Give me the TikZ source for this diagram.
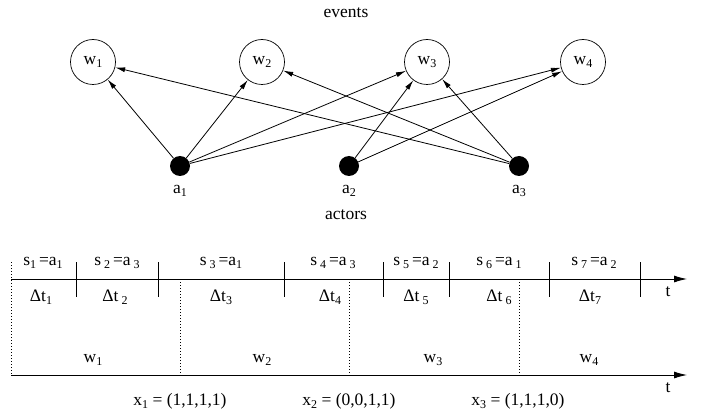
\documentclass[tikz,border=0pt]{standalone}
\usepackage{fontspec}
\setmainfont{Liberation Serif}
\usetikzlibrary{arrows.meta}
\newcommand{\lo}[1]{\raisebox{-0.4ex}{\fontsize{12}{12}\selectfont #1}}
\tikzset{
  ev/.style={circle,draw,line width=0.7pt,minimum size=45pt,inner sep=0pt},
  ac/.style={circle,fill=black,minimum size=20pt,inner sep=0pt},
  arr/.style={line width=0.8pt,-{Latex[length=10pt,width=5pt]}},
  axis/.style={line width=0.9pt,-{Latex[length=13pt,width=7pt]}},
  tick/.style={line width=0.9pt},
  dots/.style={line width=0.8pt,dash pattern=on 0.8pt off 2.2pt},
  lbl/.style={inner sep=0pt}
}
\begin{document}
\begin{tikzpicture}[x=1pt,y=-1pt,font=\fontsize{17.5}{19}\selectfont]
\useasboundingbox (0,0) rectangle (704,414);
% events
\node[lbl] (events) at (346,13) {events};
\node[ev] (w1) at (93,62) {w\lo{1}};
\node[ev] (w2) at (262,62) {w\lo{2}};
\node[ev] (w3) at (427,62) {w\lo{3}};
\node[ev] (w4) at (583,62) {w\lo{4}};
% actors
\node[ac] (a1) at (180,166) {};
\node[ac] (a2) at (349,166) {};
\node[ac] (a3) at (519,166) {};
\node[lbl] (la1) at (180,191) {a\lo{1}};
\node[lbl] (la2) at (349,191) {a\lo{2}};
\node[lbl] (la3) at (519,191) {a\lo{3}};
\node[lbl] (actors) at (346,215) {actors};
% edges
\draw[arr] (a1) -- (w1);
\draw[arr] (a1) -- (w2);
\draw[arr] (a1) -- (w3);
\draw[arr] (a1) -- (w4);
\draw[arr] (a2) -- (w3);
\draw[arr] (a2) -- (w4);
\draw[arr] (a3) -- (w1);
\draw[arr] (a3) -- (w2);
\draw[arr] (a3) -- (w3);
% timeline 1
\coordinate (ta) at (11,279);
\coordinate (tb) at (687,279);
\draw[axis] (ta) -- (tb);
\foreach \x in {76,158,284,383,449,549,640} \draw[tick] (\x,262) -- (\x,297);
\node[lbl] (tl1) at (668,292) {t};
\node[lbl] (s1) at (43,263) {s\lo{1}\,=a\lo{1}};
\node[lbl] (s2) at (117,263) {s\,\lo{2}\,=a\,\lo{3}};
\node[lbl] (s3) at (221,263) {s\,\lo{3}\,=a\lo{1}};
\node[lbl] (s4) at (333,263) {s\,\lo{4}\,=a\,\lo{3}};
\node[lbl] (s5) at (416,263) {s\,\lo{5}\,=a\,\lo{2}};
\node[lbl] (s6) at (499,263) {s\,\lo{6}\,=a\,\lo{1}};
\node[lbl] (s7) at (594,263) {s\,\lo{7}\,=a\,\lo{2}};
\node[lbl] (d1) at (41,297) {Δt\lo{1}};
\node[lbl] (d2) at (115,297) {Δt\,\lo{2}};
\node[lbl] (d3) at (221,297) {Δt\lo{3}};
\node[lbl] (d4) at (330,297) {Δt\lo{4}};
\node[lbl] (d5) at (416,297) {Δt\,\lo{5}};
\node[lbl] (d6) at (499,297) {Δt\,\lo{6}};
\node[lbl] (d7) at (590,297) {Δt\lo{7}};
% dotted separators
\draw[dots] (11,262) -- (11,375);
\draw[dots] (180,279) -- (180,375);
\draw[dots] (349,279) -- (349,375);
\draw[dots] (519,279) -- (519,375);
% timeline 2
\coordinate (ua) at (11,375);
\coordinate (ub) at (687,375);
\draw[axis] (ua) -- (ub);
\node[lbl] (tl2) at (668,388) {t};
\node[lbl] (ww1) at (93,360) {w\lo{1}};
\node[lbl] (ww2) at (262,360) {w\lo{2}};
\node[lbl] (ww3) at (433,360) {w\lo{3}};
\node[lbl] (ww4) at (589,360) {w\lo{4}};
\node[lbl] (x1) at (180,401) {x\lo{1} = (1,1,1,1)};
\node[lbl] (x2) at (349,401) {x\lo{2} = (0,0,1,1)};
\node[lbl] (x3) at (518,401) {x\lo{3} = (1,1,1,0)};
\end{tikzpicture}
\end{document}
